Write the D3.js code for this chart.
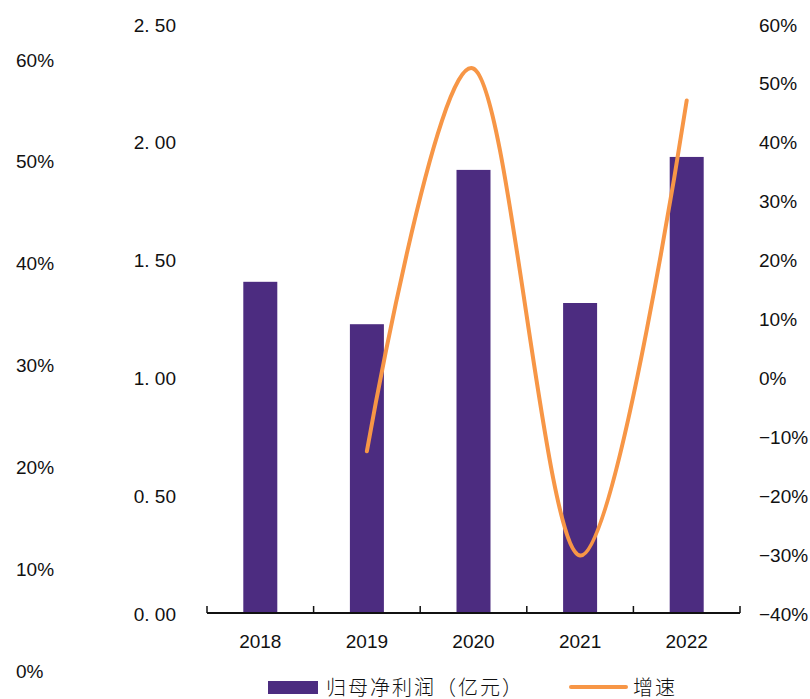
<!DOCTYPE html>
<html>
<head>
<meta charset="utf-8">
<script src="https://cdn.jsdelivr.net/npm/d3@7"></script>
<style>
  html, body { margin: 0; padding: 0; background: #fff; }
  svg { display: block; }
  .num { font-family: "Liberation Sans", Arial, sans-serif; font-size: 19px; fill: #111; }
  .cjk { font-family: "Noto Sans CJK SC", sans-serif; font-weight: 300; font-size: 20px; letter-spacing: 2px; fill: #111; }
</style>
</head>
<body>
<svg id="chart" width="810" height="699"></svg>
<script>
// Net profit attributable to parent (100M CNY) and YoY growth, 2018-2022
const years = ["2018", "2019", "2020", "2021", "2022"];
const profit = [1.41, 1.23, 1.885, 1.32, 1.94];
const growth = [null, -12.3, 52.6, -30.0, 47.2];
const leftTicks = [0, 0.5, 1.0, 1.5, 2.0, 2.5];
const rightTicks = [-40, -30, -20, -10, 0, 10, 20, 30, 40, 50, 60];
const outerTicks = [0, 10, 20, 30, 40, 50, 60];
const legendLabels = ["归母净利润（亿元）", "增速"];

const barColor = "#4c2c80";
const lineColor = "#f79646";

const svg = d3.select("#chart");

const x = d3.scaleBand().domain(years).range([207, 740]).padding(0);
const yL = d3.scaleLinear().domain([0, 2.5]).range([614, 25]);
const yR = d3.scaleLinear().domain([-40, 60]).range([614.5, 25]);
const yOuter = d3.scaleLinear().domain([0, 60]).range([671, 60]);

const barW = 34;
const cx = d => x(d) + x.bandwidth() / 2;

// bars
svg.append("g").selectAll("rect")
  .data(years.map((y, i) => ({ y, v: profit[i] })))
  .join("rect")
  .attr("x", d => cx(d.y) - barW / 2)
  .attr("width", barW)
  .attr("y", d => yL(d.v))
  .attr("height", d => yL(0) - yL(d.v))
  .attr("fill", barColor);

// category axis
const xAxis = svg.append("g").attr("transform", "translate(0,613)");
xAxis.append("line").attr("x1", 207).attr("x2", 740).attr("y1", 0).attr("y2", 0)
  .attr("stroke", "#111").attr("stroke-width", 2);
const bounds = years.map(d => x(d)).concat([x.range()[1]]);
xAxis.selectAll(".bound").data(bounds).join("line")
  .attr("class", "bound")
  .attr("x1", d => d).attr("x2", d => d).attr("y1", 0).attr("y2", -7)
  .attr("stroke", "#111").attr("stroke-width", 1.5);
svg.append("g").selectAll("text").data(years).join("text")
  .attr("class", "num")
  .attr("x", d => cx(d)).attr("y", 641)
  .attr("text-anchor", "middle").attr("dominant-baseline", "central")
  .text(d => d);

// growth line
const pts = years.map((y, i) => ({ y, g: growth[i] })).filter(d => d.g !== null);
const line = d3.line()
  .x(d => cx(d.y)).y(d => yR(d.g))
  .curve(d3.curveCardinal.tension(0));
svg.append("path").datum(pts)
  .attr("d", line)
  .attr("fill", "none")
  .attr("stroke", lineColor)
  .attr("stroke-width", 4)
  .attr("stroke-linecap", "round");

// left value axis
const fmtL = d => d3.format(".2f")(d).replace(".", ". ");
svg.append("g").selectAll("text").data(leftTicks).join("text")
  .attr("class", "num")
  .attr("x", 176).attr("y", d => yL(d))
  .attr("text-anchor", "end").attr("dominant-baseline", "central")
  .text(fmtL);

// right growth axis
const fmtR = d => (d < 0 ? "\u2212" + Math.abs(d) : d) + "%";
svg.append("g").selectAll("text").data(rightTicks).join("text")
  .attr("class", "num")
  .attr("x", 759).attr("y", d => yR(d))
  .attr("text-anchor", "start").attr("dominant-baseline", "central")
  .text(fmtR);

// outer percent axis
svg.append("g").selectAll("text").data(outerTicks).join("text")
  .attr("class", "num")
  .attr("x", 16).attr("y", d => yOuter(d))
  .attr("text-anchor", "start").attr("dominant-baseline", "central")
  .text(d => d + "%");

// legend
const lg = svg.append("g");
lg.append("rect").attr("x", 268).attr("y", 681).attr("width", 50).attr("height", 13).attr("fill", barColor);
lg.append("text").attr("class", "cjk").attr("x", 326).attr("y", 686)
  .attr("dominant-baseline", "central").text(legendLabels[0]);
lg.append("line").attr("x1", 571).attr("x2", 626).attr("y1", 687).attr("y2", 687)
  .attr("stroke", lineColor).attr("stroke-width", 4).attr("stroke-linecap", "round");
lg.append("text").attr("class", "cjk").attr("x", 633).attr("y", 686)
  .attr("dominant-baseline", "central").text(legendLabels[1]);
</script>
</body>
</html>
